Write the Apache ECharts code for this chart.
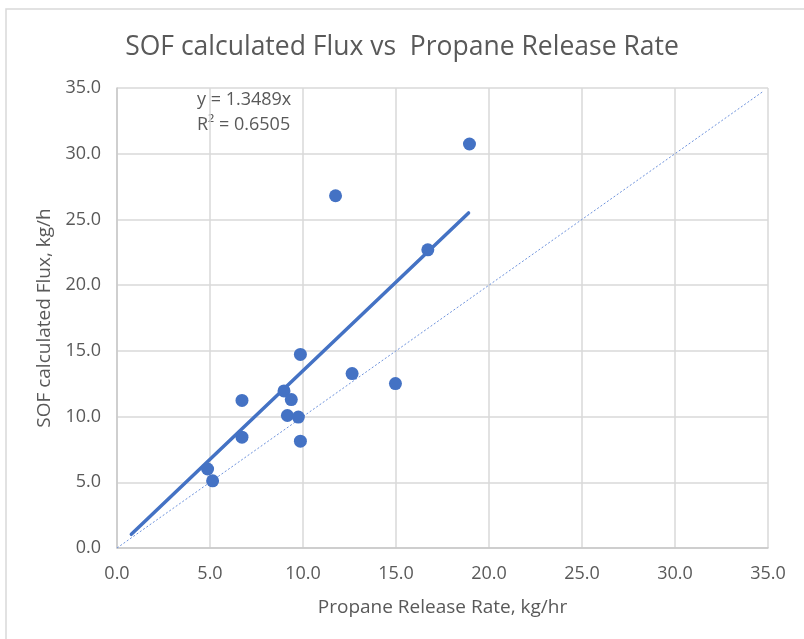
<!DOCTYPE html>
<html>
<head>
<meta charset="utf-8">
<script src="https://cdn.jsdelivr.net/npm/echarts@6/dist/echarts.min.js"></script>
<style>html,body{margin:0;padding:0;background:#fff}#c{width:804px;height:639px}</style>
</head>
<body>
<div id="c"></div>
<script>
const releaseRate = [4.87, 5.14, 6.72, 6.72, 8.98, 9.16, 9.37, 9.75, 9.86, 9.86, 11.75, 12.64, 14.97, 16.71, 18.95];
const sofFlux     = [6.01, 5.11, 11.23, 8.43, 11.95, 10.08, 11.29, 9.96, 14.73, 8.13, 26.8, 13.27, 12.51, 22.69, 30.74];
const trendSlope = 1.3489;
const trendR2 = 0.6505;
const trendX = [0.77, 18.9];
const oneToOneX = [0, 34.7];
const axisTicks = [0, 5, 10, 15, 20, 25, 30, 35];

const FONT = "'Open Sans', sans-serif";
const TXT = '#595959';
const chart = echarts.init(document.getElementById('c'));
chart.setOption({
  backgroundColor: '#fff',
  animation: false,
  title: {
    text: 'SOF calculated Flux vs  Propane Release Rate',
    left: 'center', top: 29,
    textStyle: { fontFamily: FONT, fontSize: 26.5, fontWeight: 'normal', color: TXT }
  },
  grid: { left: 117, right: 36, top: 88, bottom: 91 },
  xAxis: {
    type: 'value', min: axisTicks[0], max: axisTicks[axisTicks.length - 1], interval: 5,
    name: 'Propane Release Rate, kg/hr', nameLocation: 'middle', nameGap: 50,
    nameTextStyle: { fontFamily: FONT, fontSize: 19, color: TXT },
    axisLine: { lineStyle: { color: '#c8c8c8', width: 1.5 } },
    axisTick: { show: false },
    axisLabel: { fontFamily: FONT, fontSize: 18, color: TXT, margin: 17, formatter: v => v.toFixed(1) },
    splitLine: { lineStyle: { color: '#d9d9d9', width: 1.5 } }
  },
  yAxis: {
    type: 'value', min: axisTicks[0], max: axisTicks[axisTicks.length - 1], interval: 5,
    name: 'SOF calculated Flux, kg/h', nameLocation: 'middle', nameGap: 60,
    nameTextStyle: { fontFamily: FONT, fontSize: 19, color: TXT },
    axisLine: { show: true, lineStyle: { color: '#c8c8c8', width: 1.5 } },
    axisTick: { show: false },
    axisLabel: { fontFamily: FONT, fontSize: 18, color: TXT, margin: 16, formatter: v => v.toFixed(1) },
    splitLine: { lineStyle: { color: '#d9d9d9', width: 1.5 } }
  },
  series: [
    {
      type: 'line', data: oneToOneX.map(x => [x, x]), symbol: 'none', silent: true,
      lineStyle: { color: '#6f93dc', width: 1, type: [2, 2] }, z: 2
    },
    {
      type: 'line', data: trendX.map(x => [x, trendSlope * x]), symbol: 'none', silent: true,
      lineStyle: { color: '#4472C4', width: 3.5, cap: 'round' }, z: 3
    },
    {
      type: 'scatter', data: releaseRate.map((x, i) => [x, sofFlux[i]]),
      symbolSize: 13, itemStyle: { color: '#4472C4', opacity: 1 }, z: 4
    }
  ],
  graphic: [
    { type: 'rect', shape: { x: 6, y: 9, width: 900, height: 800 }, style: { fill: 'none', stroke: '#d9d9d9', lineWidth: 1.5 }, silent: true, z: -1 },
    { type: 'text', left: 197, top: 91, style: { text: 'y = ' + trendSlope + 'x', fontFamily: FONT, fontSize: 18, fill: TXT } },
    { type: 'text', left: 197, top: 116, style: { text: 'R² = ' + trendR2, fontFamily: FONT, fontSize: 18, fill: TXT } }
  ]
});
</script>
</body>
</html>
